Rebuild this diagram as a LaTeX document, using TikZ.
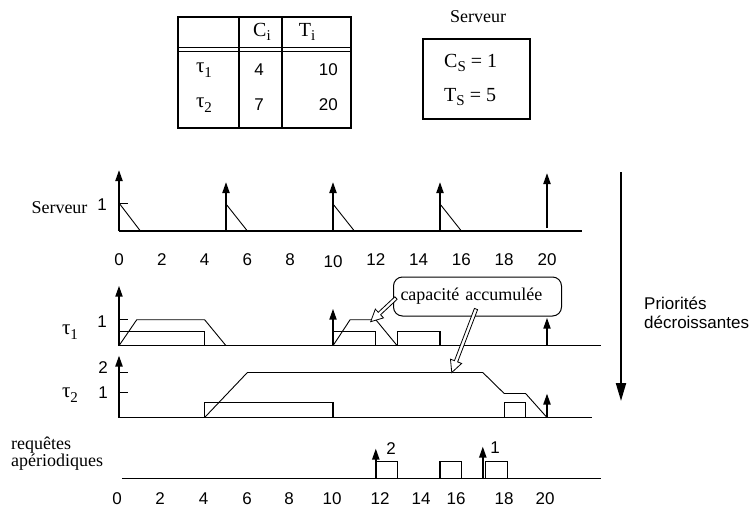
\documentclass[tikz,border=0pt]{standalone}
\usepackage{fontspec}
\setmainfont{Liberation Serif}
\setsansfont{Liberation Sans}
\usetikzlibrary{arrows.meta,calc}
\newcommand\mysub[1]{\raisebox{-4.5pt}{\fontsize{15}{15}\selectfont #1}}
\newcommand\mytau{{\fontsize{21}{21}\selectfont τ}}
\newcommand\hollowarr[2]{%
  \coordinate (hb) at ($(#2)!12pt!(#1)$);
  \draw[harrow] ($(#1)!1.7pt!90:(#2)$) -- ($(hb)!1.7pt!90:(#2)$) -- ($(hb)!6pt!90:(#2)$) -- (#2)
    -- ($(hb)!6pt!-90:(#2)$) -- ($(hb)!1.7pt!-90:(#2)$) -- ($(#1)!1.7pt!-90:(#2)$) -- cycle;}
\begin{document}
\begin{tikzpicture}[x=1pt,y=-1pt,
  ax/.style={line width=1.3pt},
  ln/.style={line width=0.9pt},
  bx/.style={line width=1.3pt},
  up/.style={line width=2pt,-{Triangle[length=11pt,width=7pt]}},
  harrow/.style={line width=0.8pt,fill=white,line join=miter},
  num/.style={font=\sffamily\fontsize{17}{18}\selectfont,inner sep=0pt},
  lab/.style={font=\fontsize{18}{17}\selectfont,inner sep=0pt}]
\useasboundingbox (0,0) rectangle (753,509);

% ---- table ----
\draw[bx] (178,17) rectangle (351,128);
\draw[bx] (239,17) -- (239,128) (282,17) -- (282,128);
\draw[line width=1pt] (178,47.5) -- (351,47.5) (178,51) -- (351,51);
\node[lab,font=\fontsize{20}{20}\selectfont] (hc) at (262,32) {C\mysub{i}};
\node[lab,font=\fontsize{20}{20}\selectfont] (ht) at (307,32) {T\mysub{i}};
\node[lab] (r1) at (204,70) {\mytau\mysub{1}};
\node[num] (c1) at (259,70) {4};
\node[num,anchor=east] (p1) at (338,70) {10};
\node[lab] (r2) at (204,105) {\mytau\mysub{2}};
\node[num] (c2) at (259,105) {7};
\node[num,anchor=east] (p2) at (338,105) {20};

% ---- server box ----
\node[lab] (srvt) at (478,17) {Serveur};
\draw[bx] (423,39) rectangle (530,119);
\node[lab,anchor=west,font=\fontsize{20}{20}\selectfont] (cs) at (444,63) {C\mysub{S} = 1};
\node[lab,anchor=west,font=\fontsize{20}{20}\selectfont] (ts) at (444,97) {T\mysub{S} = 5};

% ---- server timeline ----
\node[lab] (srvl) at (59.5,208) {Serveur};
\node[num] (s1) at (102,205) {1};
\begin{scope}[shift={(119pt,-231pt)},x=21.4pt,y=1pt]
  \coordinate (s0) at (0,0); \coordinate (send) at (21.64,0);
  \draw[ax] (s0) -- (send);
  \draw[up] (0,0) -- (0,61);
  \foreach \t in {5,10,15} \draw[up] (\t,0) -- (\t,49);
  \draw[up] (20,3) -- (20,58);
  \draw[ln] (0,28) -- (0.4,28);
  \draw[ln] (0,28) -- (1,0);
  \foreach \t in {5,10,15} \draw[ln] (\t,27) -- (\t+1,0);
\end{scope}
\foreach \t/\l in {0/0,2/2,4/4,6/6,8/8,12/12,14/14,16/16,18/18,20/20}
  \node[num] (ta\l) at (119+21.4*\t,259.5) {\l};
\node[num] (ta10) at (333,262) {10};

% ---- tau1 ----
\node[lab] (tau1) at (70,332) {\mytau\mysub{1}};
\node[num] (t1l) at (102,322) {1};
\begin{scope}[shift={(119pt,-345.7pt)},x=21.4pt,y=1pt]
  \draw[ax] (0,0) -- (22.5,0);
  \draw[up] (0,0) -- (0,60);
  \draw[ln] (0,26) -- (0.4,26);
  \draw[ln] (0,0) -- (0.83,26) -- (4,26) -- (5,0);
  \draw[bx] (0,0) rectangle (4,14);
  \draw[up] (10,0) -- (10,37);
  \draw[ln] (10,0) -- (10.8,26) -- (12,26) -- (13,0);
  \coordinate (pk1) at (11.76,24);
  \draw[bx] (10,0) rectangle (12,14);
  \draw[bx] (13,0) rectangle (15,14);
  \draw[up] (20,0) -- (20,28);
\end{scope}

% ---- tau2 ----
\node[lab] (tau2) at (70,395) {\mytau\mysub{2}};
\node[num] (t2l2) at (103,368) {2};
\node[num] (t2l1) at (103,393) {1};
\begin{scope}[shift={(119pt,-417.5pt)},x=21.4pt,y=1pt]
  \draw[ax] (0,0) -- (22.1,0);
  \draw[up] (0,0) -- (0,62);
  \draw[ln] (0,25.5) -- (0.42,25.5);
  \draw[ln] (0,45) -- (0.42,45);
  \draw[ln] (4,0) -- (6,45) -- (17,45) -- (18,24) -- (19,24) -- (20,0);
  \coordinate (pk2) at (15.55,45);
  \draw[bx] (4,0) rectangle (10,15);
  \draw[bx] (18,0) rectangle (19,15);
  \draw[up] (20,0) -- (20,24);
\end{scope}

% ---- callout ----
\node[draw,rounded corners=9pt,line width=1pt,minimum height=39pt,
      text width=154pt,align=left,inner xsep=7pt,inner ysep=0pt,
      font=\fontsize{18}{17}\selectfont] (cap) at (477.5,296.5) {capacité accumulée};
\coordinate (a1) at (396,298);
\coordinate (a2) at (476,309);
\hollowarr{a1}{pk1}
\hollowarr{a2}{pk2}

% ---- aperiodic requests ----
\node[lab,anchor=north west,align=left] (req) at (11,437) {requêtes\\apériodiques};
\begin{scope}[shift={(119pt,-478.5pt)},x=21.4pt,y=1pt]
  \draw[ax] (0.13,0) -- (22.5,0);
  \draw[up] (12,0) -- (12,30);
  \draw[bx] (12,0) rectangle (13,17);
  \draw[bx] (15,0) rectangle (16,17);
  \draw[up] (17,0) -- (17,32);
  \draw[bx] (17.12,0) rectangle (18.15,17);
\end{scope}
\node[num] (rq2) at (391,449) {2};
\node[num] (rq1) at (495,448) {1};
\foreach \x/\l in {117/0,160/2,203.5/4,247/6,289/8,332/10,380/12,421/14,456/16,504/18,545/20}
  \node[num] (tb\l) at (\x,498.5) {\l};

% ---- priorities ----
\coordinate (pr1) at (621,172);
\coordinate (pr2) at (621,401);
\draw[line width=2pt,-{Triangle[length=18pt,width=10pt]}] (pr1) -- (pr2);
\node[font=\sffamily\fontsize{17}{19}\selectfont,anchor=west,align=left,inner sep=0pt] (prio) at (644,312.5) {Priorités\\décroissantes};
\end{tikzpicture}
\end{document}
